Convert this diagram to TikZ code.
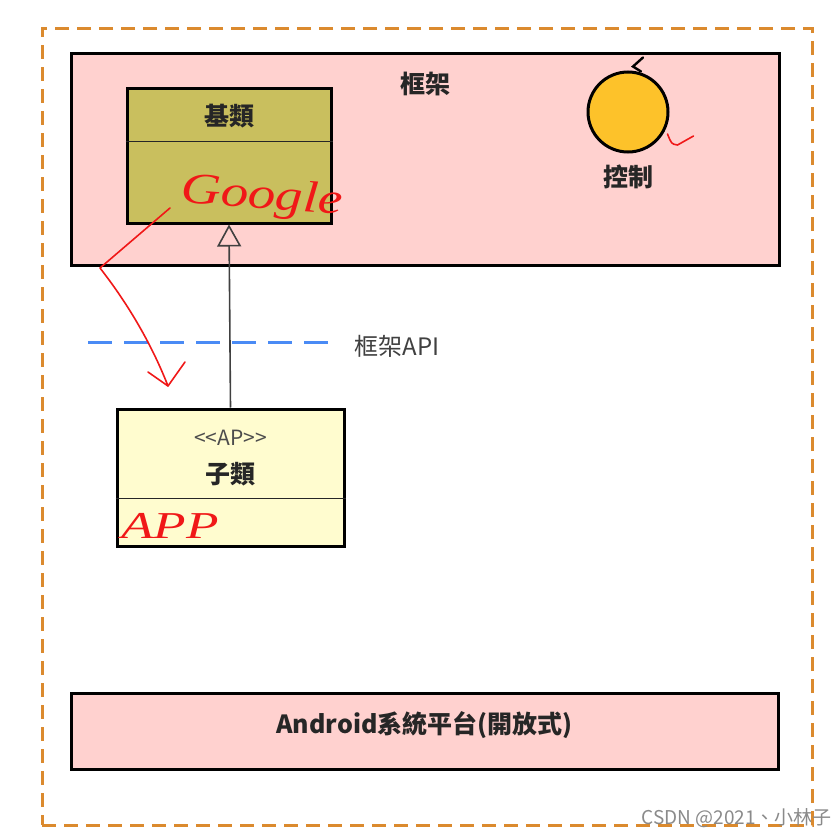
\documentclass[tikz,border=0pt]{standalone}
\usepackage{fontspec}
\setmainfont{Noto Sans CJK TC}
\newfontfamily\handfont{Liberation Serif}
\usepackage{tikz}
\usetikzlibrary{arrows.meta, positioning, calc}
\definecolor{framepink}{HTML}{FFD1CF}
\definecolor{baseolive}{HTML}{C9BF5E}
\definecolor{subcream}{HTML}{FFFCCF}
\definecolor{ctrlgold}{HTML}{FDC22A}
\definecolor{outerorange}{HTML}{DB8A2E}
\definecolor{apiblue}{HTML}{4A8BF5}
\definecolor{inkred}{HTML}{F01818}
\definecolor{wmgray}{HTML}{8A8A8A}
\tikzset{
  layerbox/.style={rectangle, draw=black, line width=3pt, fill=framepink, inner sep=0pt},
  classbox/.style={rectangle, draw=black, line width=3pt, inner sep=0pt},
  divider/.style={draw=black!85, line width=1.6pt},
  ttl/.style={font=\fontsize{25}{27}\selectfont\bfseries, text=black!85, inner sep=0pt},
  stereo/.style={font=\fontsize{21}{23}\selectfont, text=black!70, inner sep=0pt},
  inh/.style={-{Triangle[open, length=22pt, width=24pt, line width=1.6pt]}, draw=black!75, line width=1.6pt},
  apiline/.style={draw=apiblue, line width=3pt, dash pattern=on 24pt off 12pt},
  apilbl/.style={font=\fontsize{24}{26}\selectfont, text=black!75, inner sep=0pt},
  ink/.style={draw=inkred, line width=1.6pt, line cap=round, line join=round},
  hand/.style={font=\handfont\itshape\fontsize{44}{46}\selectfont, text=inkred, inner sep=0pt},
}

\begin{document}
\begin{tikzpicture}[x=1pt, y=-1pt]
\useasboundingbox[fill=white] (0,0) rectangle (839,838);

% outer dashed border
\node[rectangle, draw=outerorange, line width=3pt, dash pattern=on 14pt off 8pt,
      minimum width=770pt, minimum height=797pt, inner sep=0pt] (outer) at (427,426.5) {};

% framework layer
\node[layerbox, minimum width=708pt, minimum height=212pt] (fw) at (425,159) {};
\node[ttl] (fwlbl) at (425,84) {框架};

\node[classbox, fill=baseolive, minimum width=204pt, minimum height=135pt] (base) at (229,155.5) {};
\node[ttl] (baselbl) at ($(base.north)+(0,30)$) {基類};
\draw[divider] ($(base.north west)+(0,55)$) -- ($(base.north east)+(0,55)$);

\node[circle, draw=black, line width=3pt, fill=ctrlgold, minimum size=80pt, inner sep=0pt] (ctl) at (628,112) {};
\node[ttl] (ctllbl) at ($(ctl.center)+(0,65)$) {控制};
\draw[draw=black, line width=2.4pt, line cap=round] ($(ctl.north)+(15,-13)$) -- ($(ctl.north)+(5,-4)$) -- ($(ctl.north)+(13,1)$);

% framework API line
\node[apilbl] (api) at (397,346) {框架API};
\coordinate (apiL) at (88,342);
\draw[apiline] (apiL) -- ($(api.west)+(-16,-4)$);

% application class
\node[classbox, fill=subcream, minimum width=227pt, minimum height=137pt] (sub) at (230.5,477.5) {};
\node[stereo] (stlbl) at ($(sub.north)+(0,30)$) {<{}<AP>{}>};
\node[ttl] (sublbl) at ($(sub.north)+(0,67)$) {子類};
\draw[divider] ($(sub.north west)+(0,91)$) -- ($(sub.north east)+(0,91)$);

\draw[inh] (sub.north) -- (base.south);

% platform layer
\node[layerbox, minimum width=707pt, minimum height=76pt] (andr) at (424.5,731) {};
\node[ttl, font=\fontsize{25}{27}\selectfont\bfseries] (andrlbl) at ($(andr.center)+(0,-6)$) {Android系統平台(開放式)};

% handwritten notes
\node[hand, rotate=-4, xscale=1.25] (gnote) at (262,198) {Google};
\node[hand, font=\handfont\itshape\fontsize{38}{40}\selectfont, xscale=1.4] (anote) at (170,526) {APP};
\coordinate (inkS) at (170,208);
\coordinate (inkK) at (100,268);
\coordinate (inkE) at (168,386);
\draw[ink] (inkS) -- (inkK) .. controls (125,300) and (150,340) .. (inkE);
\draw[ink] (148,372) -- (inkE) -- (185,362);
\draw[ink] ($(ctl.east)+(-2,22)$) .. controls ($(ctl.east)+(2,32)$) .. ($(ctl.east)+(8,33)$) -- ($(ctl.east)+(24,24)$);

% watermark
\node[font=\fontsize{19}{21}\selectfont, text=wmgray, anchor=east, inner sep=0pt] (wm) at (832,818) {CSDN @2021、小林子};

\end{tikzpicture}
\end{document}
